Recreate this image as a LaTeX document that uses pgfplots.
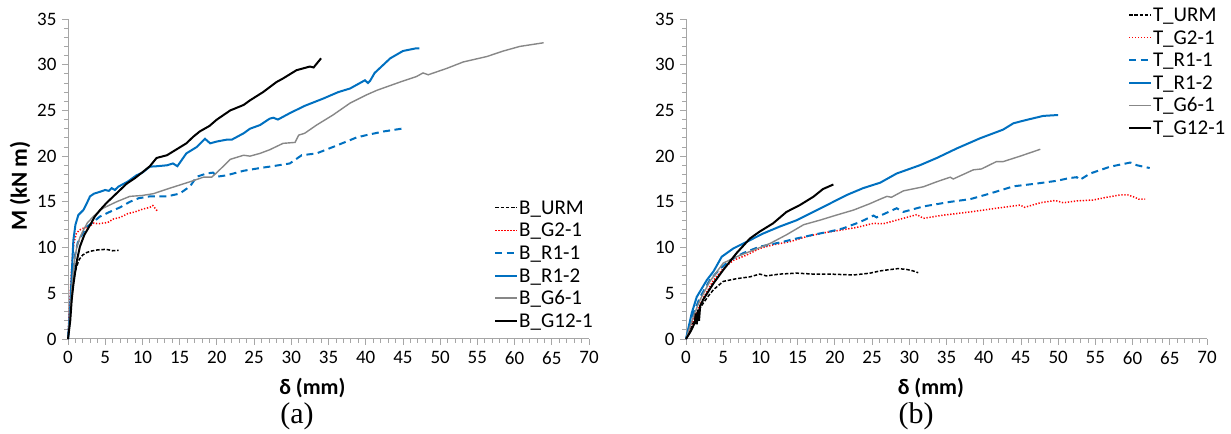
\documentclass[border=0pt]{standalone}
\usepackage{fontspec}
\setmainfont{Carlito}
\newfontfamily\timesf{Liberation Serif}
\usepackage{pgfplots}
\pgfplotsset{compat=1.18}
\definecolor{exblue}{HTML}{0070C0}
\definecolor{exred}{HTML}{FF0000}
\definecolor{exgray}{HTML}{878787}
\definecolor{axgray}{HTML}{A6A6A6}
\pgfplotsset{
  mybase/.style={
    scale only axis, width=521bp, height=320bp,
    xmin=0, xmax=70, ymin=0, ymax=35,
    xtick={0,5,...,70}, ytick={0,5,...,35},
    minor tick num=4,
    axis x line*=bottom, axis y line*=left,
    axis line style={draw=axgray, line width=1bp, -},
    tick style={draw=axgray, line width=0.8bp},
    tick align=outside,
    major tick length=6bp, minor tick length=4bp,
    /pgf/number format/assume math mode=true,
    ticklabel style={font=\fontsize{19bp}{22bp}\selectfont},
    xticklabel style={yshift=-3bp},
    yticklabel style={xshift=-2bp},
    xlabel style={font=\fontsize{22bp}{26bp}\selectfont\bfseries},
    ylabel style={font=\fontsize{23bp}{27bp}\selectfont\bfseries},
    legend cell align=left,
    legend style={draw=none, fill=none, inner sep=0pt, row sep=0pt,
      font=\fontsize{21bp}{25bp}\selectfont,
      nodes={inner sep=1bp, text height=15.8bp, text depth=4.8bp}},
    legend image code/.code={\draw[#1, line cap=butt] (0bp,1bp) -- (22bp,1bp);},
    clip=false,
  },
  urm/.style={black, line width=1.5bp, dash pattern=on 3.5bp off 1.8bp},
  gtwo/.style={exred, line width=1.5bp, dash pattern=on 1.3bp off 1.7bp},
  rone/.style={exblue, line width=2bp, dash pattern=on 7bp off 4.5bp},
  rtwo/.style={exblue, line width=2bp},
  gsix/.style={exgray, line width=1.4bp},
  gtw/.style={black, line width=2bp},
}
\begin{document}
\begin{tikzpicture}
\useasboundingbox (0,0) rectangle (1231bp,434bp);
\begin{axis}[mybase, at={(68bp,95bp)}, anchor=south west,
  xlabel={δ (mm)}, ylabel={M (kN m)},
  xlabel style={at={(axis description cs:0.469,-0.153)}, anchor=center},
  ylabel style={at={(axis description cs:-0.092,0.478)}, anchor=center, rotate=0},
  legend style={at={(0.8177,0.443)}, anchor=north west}]
\addplot[urm] coordinates {(0,0) (0.3,2.5) (0.6,5.5) (0.9,7.2) (1.2,8.0) (1.5,8.7) (2,9.2) (2.5,9.45) (3,9.6) (4,9.75) (5,9.8) (5.5,9.75) (6,9.65) (6.8,9.7)};
\addlegendentry{B\_URM}
\addplot[gtwo] coordinates {(0,0) (0.1,2) (0.25,4) (0.4,6.5) (0.6,9) (0.8,10.5) (1.1,11.5) (1.5,11.9) (2,12.1) (2.5,12.2) (3,12.4) (3.5,12.7) (4,12.6) (5,12.7) (5.5,12.8) (6,13.1) (7,13.3) (8,13.7) (9,13.9) (10,14.2) (11,14.4) (11.4,14.6) (11.8,14.2) (12,14.0)};
\addlegendentry{B\_G2-1}
\addplot[rone] coordinates {(0,0) (0.3,3) (0.6,6.5) (0.9,9) (1.3,10.5) (2,11.6) (2.6,12.3) (3.4,12.8) (4.3,13.4) (5.6,13.9) (7,14.4) (8.3,15.0) (9.5,15.4) (11,15.6) (13.3,15.6) (15,15.9) (16.4,16.7) (17.3,17.75) (18.6,18.1) (19.5,18.2) (20.0,17.75) (21.3,17.9) (23.6,18.4) (25.8,18.7) (27.5,18.9) (29.8,19.2) (31.4,20.1) (33.4,20.3) (35.6,21.0) (38.8,22.05) (40.1,22.3) (42.4,22.7) (44.8,23.0)};
\addlegendentry{B\_R1-1}
\addplot[rtwo] coordinates {(0,0) (0.3,3.5) (0.5,7) (0.72,10.8) (1.0,12.5) (1.39,13.56) (2.06,14.1) (2.5,14.8) (2.96,15.6) (3.5,15.9) (4.3,16.1) (5.0,16.3) (5.5,16.2) (5.87,16.5) (6.3,16.3) (6.76,16.66) (8,17.2) (9.2,17.9) (10,18.2) (11.0,18.85) (12,18.9) (13.3,19.0) (14.1,19.2) (14.7,18.9) (15.9,20.3) (17.3,21.0) (18.4,21.9) (19.1,21.4) (20,21.6) (21.3,21.8) (22,21.8) (23.6,22.5) (24.45,23.0) (25.8,23.4) (27.1,24.1) (27.6,24.2) (28.2,24.0) (29.8,24.7) (31.8,25.5) (34.3,26.3) (36.3,27.0) (37.9,27.4) (39.9,28.3) (40.3,28.0) (40.6,28.25) (41.2,29.1) (43.3,30.7) (45.0,31.5) (46.8,31.8) (47.2,31.8)};
\addlegendentry{B\_R1-2}
\addplot[gsix] coordinates {(0,0) (0.3,3) (0.6,6.5) (0.9,8.8) (1.2,10.1) (1.6,11.1) (2.06,11.9) (2.6,12.7) (3.4,13.4) (4.7,14.3) (6.5,15.0) (8.3,15.6) (10,15.7) (11.5,15.9) (13.7,16.5) (16.4,17.2) (18.2,17.7) (19.3,17.7) (20.0,18.2) (21.8,19.65) (23.6,20.1) (24.45,20.0) (25.8,20.3) (27.1,20.7) (28.9,21.4) (30.5,21.5) (31.0,22.3) (31.8,22.5) (33.4,23.4) (35.6,24.5) (37.9,25.8) (40.1,26.7) (41.5,27.2) (44.6,28.1) (46.8,28.7) (47.7,29.1) (48.4,28.9) (50.9,29.6) (53.1,30.3) (56.3,30.9) (58.5,31.5) (60.7,32.0) (63.9,32.4)};
\addlegendentry{B\_G6-1}
\addplot[gtw] coordinates {(0,0) (0.3,2) (0.5,4.3) (0.7,5.8) (0.94,7.2) (1.2,8.6) (1.6,10.1) (2.2,11.4) (3.0,12.5) (3.6,13.4) (4.3,14.1) (5.2,14.9) (6.1,15.6) (7,16.3) (7.9,17.0) (9,17.6) (10.1,18.3) (11,18.9) (11.9,19.8) (13.3,20.1) (14.5,20.7) (15.9,21.4) (16.8,22.1) (17.7,22.7) (19,23.3) (20.0,24.0) (21.8,25.0) (23.6,25.6) (24.45,26.1) (26.2,27.0) (28.0,28.1) (28.9,28.5) (30.7,29.4) (32.5,29.8) (33.0,29.7) (34.0,30.7)};
\addlegendentry{B\_G12-1}
\end{axis}
\begin{axis}[mybase, at={(686bp,95bp)}, anchor=south west,
  xlabel={δ (mm)},
  xlabel style={at={(axis description cs:0.470,-0.153)}, anchor=center},
  legend style={at={(0.848,1.045)}, anchor=north west}]
\addplot[urm] coordinates {(0,0) (0.7,1.2) (1.44,2.8) (2.3,3.9) (3.0,4.7) (3.7,5.4) (5.0,6.3) (6.8,6.6) (8.6,6.8) (9.9,7.1) (10.8,6.9) (12.6,7.1) (14.9,7.2) (17.1,7.1) (19.3,7.1) (22.5,7.0) (24.7,7.2) (26.1,7.45) (27.0,7.55) (28.5,7.7) (29.7,7.6) (30.5,7.45) (31.2,7.25)};
\addlegendentry{T\_URM}
\addplot[gtwo] coordinates {(0,0) (1.0,2.1) (2.3,4.45) (3.7,6.45) (5.0,7.7) (6.35,8.6) (8.2,9.2) (9.9,9.9) (11.7,10.3) (14.0,10.65) (16.2,11.2) (18.4,11.6) (20.7,11.9) (22.9,12.2) (25.2,12.65) (26.5,12.6) (28.3,13.0) (31.0,13.6) (31.9,13.2) (34.6,13.55) (38.2,13.9) (41.7,14.3) (44.9,14.65) (45.5,14.4) (47.6,14.9) (49.6,15.15) (50.7,14.9) (52.5,15.1) (54.7,15.2) (56.5,15.5) (58.3,15.75) (59.4,15.75) (60.3,15.5) (60.8,15.3) (61.7,15.3)};
\addlegendentry{T\_G2-1}
\addplot[rone] coordinates {(0,0) (1.0,2.8) (1.9,4.6) (3.2,6.45) (4.6,7.7) (5.9,8.6) (7.7,9.4) (9.9,10.1) (12.6,10.55) (14.9,11.0) (17.1,11.4) (19.3,11.75) (21.1,12.1) (23.4,12.8) (25.2,13.5) (25.6,13.3) (28.3,14.3) (29.2,13.9) (31.9,14.5) (35.5,15.0) (38.2,15.3) (40.8,15.9) (44.0,16.7) (47.1,17.0) (49.8,17.3) (51.5,17.6) (52.5,17.7) (52.9,17.4) (54.3,18.1) (57.0,18.85) (59.7,19.3) (60.6,19.0) (62.3,18.7)};
\addlegendentry{T\_R1-1}
\addplot[rtwo] coordinates {(0,0) (0.76,2.8) (1.44,4.6) (2.8,6.45) (3.7,7.4) (4.8,9.0) (6.35,9.9) (8.2,10.65) (10.4,11.55) (12.6,12.3) (14.9,13.0) (17.1,13.9) (19.3,14.8) (21.6,15.75) (23.8,16.5) (26.1,17.1) (28.3,18.1) (31.4,19.0) (33.7,19.8) (36.4,20.85) (39.5,21.95) (42.6,22.9) (44.0,23.6) (46.2,24.05) (48.0,24.4) (50.0,24.5)};
\addlegendentry{T\_R1-2}
\addplot[gsix] coordinates {(0,0) (1.0,2.5) (1.9,4.3) (3.2,6.3) (5.0,8.3) (6.8,9.0) (9.0,9.7) (11.3,10.45) (13.5,11.4) (15.8,12.5) (18.0,13.0) (20.2,13.55) (22.5,14.1) (24.7,14.8) (26.1,15.3) (27.0,15.6) (27.6,15.5) (29.2,16.2) (31.9,16.65) (33.7,17.2) (35.5,17.7) (35.9,17.5) (38.6,18.5) (39.7,18.6) (41.7,19.4) (42.6,19.4) (44.9,20.0) (46.7,20.5) (47.6,20.75)};
\addlegendentry{T\_G6-1}
\addplot[gtw] coordinates {(0,0) (0.6,0.8) (1.2,1.8) (1.3,2.8) (1.45,1.6) (1.6,3.2) (1.75,2.0) (1.9,3.6) (2.3,4.3) (3.0,5.2) (3.7,6.1) (5.0,7.55) (6.8,9.4) (8.6,11.0) (9.9,11.75) (11.7,12.65) (13.5,13.9) (15.3,14.65) (17.1,15.55) (18.4,16.4) (19.8,16.9)};
\addlegendentry{T\_G12-1}
\end{axis}
\node[font=\timesf\fontsize{30bp}{34bp}\selectfont, anchor=center] at (297bp,18bp) {(a)};
\node[font=\timesf\fontsize{30bp}{34bp}\selectfont, anchor=center] at (916bp,18bp) {(b)};
\end{tikzpicture}
\end{document}
